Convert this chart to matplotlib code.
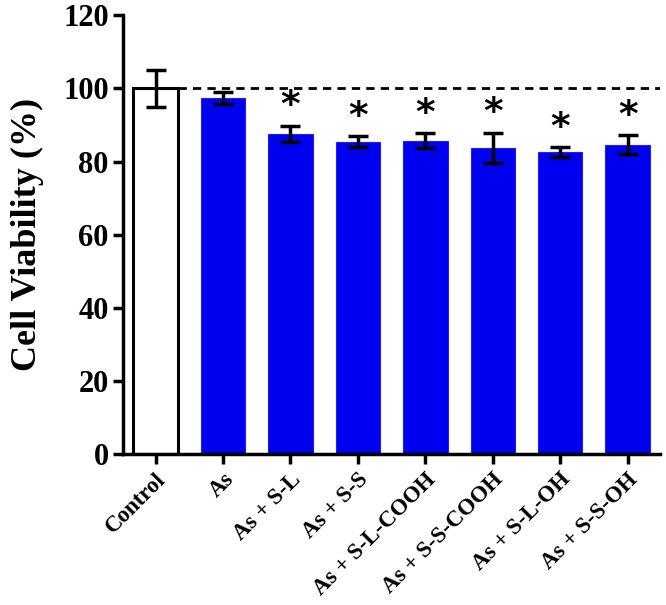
import numpy as np
import matplotlib
matplotlib.use("Agg")
import matplotlib.pyplot as plt

# data
groups = ['Control', 'As', 'As + S-L', 'As + S-S', 'As + S-L-COOH',
          'As + S-S-COOH', 'As + S-L-OH', 'As + S-S-OH']
viability = [100.0, 97.3, 87.6, 85.4, 85.7, 83.8, 82.6, 84.6]
errors = [5.0, 1.7, 2.2, 1.5, 2.0, 4.1, 1.4, 2.6]
significant = [False, False, True, True, True, True, True, True]

plt.rcParams['font.family'] = ['Liberation Serif', 'DejaVu Serif']
plt.rcParams['font.weight'] = 'bold'

fig = plt.figure(figsize=(6.66, 6.05), dpi=100)
ax = fig.add_axes([0.185, 0.249, 0.806, 0.726])

x = np.arange(len(groups))
w = 0.66
pad = 0.15
colors = ['white'] + ['#0000f0'] * (len(groups) - 1)
edges = ['black'] + ['#2020f0'] * (len(groups) - 1)
lws = [2.2] + [0.8] * (len(groups) - 1)
ax.bar(x, viability, width=w, color=colors, edgecolor=edges, linewidth=lws, zorder=2)
ax.errorbar(x, viability, yerr=errors, fmt='none', ecolor='black',
            elinewidth=2.5, capsize=7, capthick=2.5, zorder=3)

xmin, xmax = -w / 2 - pad, len(groups) - 1 + w / 2 + pad

# reference line at 100 %
ax.hlines(100, x[0] + w / 2, xmax, colors='black',
          linestyles=(0, (3, 2.2)), linewidth=2, zorder=1)

for xi, v, e, s in zip(x, viability, errors, significant):
    if s:
        ax.annotate('*', (xi, v + e), xytext=(0, 1), textcoords='offset points',
                    ha='center', va='bottom', fontsize=27, fontweight='bold',
                    family='DejaVu Sans')

ax.set_xlim(xmin, xmax)
ax.set_ylim(0, 120)
ax.set_yticks([0, 20, 40, 60, 80, 100, 120])
ax.set_xticks(x)
ax.set_xticklabels(groups, rotation=45, ha='right', rotation_mode='anchor',
                   fontsize=16.5, fontweight='bold')
ax.tick_params(axis='y', labelsize=22, width=2.5, length=7)
ax.tick_params(axis='x', width=2.5, length=7)
for lab in ax.get_yticklabels():
    lab.set_fontweight('bold')
ax.set_ylabel('Cell Viability (%)', fontsize=26, fontweight='bold', labelpad=14)

ax.spines['top'].set_visible(False)
ax.spines['right'].set_visible(False)
ax.spines['left'].set_linewidth(2.5)
ax.spines['bottom'].set_linewidth(2.5)

fig.savefig('out.png', dpi=100)
